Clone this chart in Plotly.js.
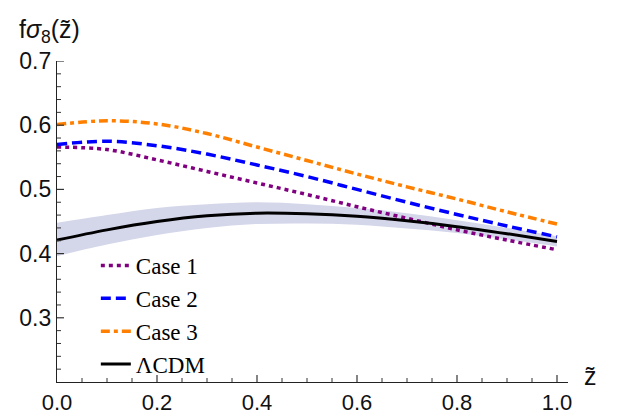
<!DOCTYPE html>
<html>
<head>
<meta charset="utf-8">
<script src="https://cdn.plot.ly/plotly-3.0.1.min.js"></script>
<style>html,body{margin:0;padding:0;background:#fff;}#chart{width:618px;height:414px;}</style>
</head>
<body>
<div id="chart"></div>
<script>
// Redshift grid
const zTilde = [0.0, 0.1, 0.2, 0.3, 0.4, 0.5, 0.6, 0.7, 0.8, 0.9, 1.0];
// Series values f*sigma8(z~)
const case1 = [0.566, 0.562, 0.546, 0.528, 0.510, 0.492, 0.473, 0.455, 0.437, 0.421, 0.406];
const case2 = [0.570, 0.575, 0.568, 0.555, 0.538, 0.520, 0.500, 0.480, 0.461, 0.443, 0.426];
const case3 = [0.601, 0.607, 0.602, 0.587, 0.566, 0.545, 0.524, 0.504, 0.485, 0.465, 0.446];
const lcdm  = [0.421, 0.437, 0.450, 0.459, 0.463, 0.462, 0.458, 0.451, 0.442, 0.431, 0.419];
const lcdmUpper = [0.448, 0.460, 0.471, 0.477, 0.480, 0.477, 0.471, 0.463, 0.452, 0.440, 0.427];
const lcdmLower = [0.396, 0.414, 0.429, 0.440, 0.446, 0.447, 0.445, 0.439, 0.432, 0.422, 0.411];
// Labels
const seriesNames = ["Case 1", "Case 2", "Case 3", "\u039BCDM"];
const xTickVals = [0.0, 0.2, 0.4, 0.6, 0.8, 1.0];
const xTickText = ["0.0", "0.2", "0.4", "0.6", "0.8", "1.0"];
const yTickVals = [0.3, 0.4, 0.5, 0.6, 0.7];
const yTickText = ["0.3", "0.4", "0.5", "0.6", "0.7"];
const xMinorStep = 0.05;
const yMinorStep = 0.02;

const xRange = [0, 1.022];
const yRange = [0.2, 0.7];

const traces = [
  {x: zTilde, y: lcdmLower, mode: 'lines', line: {width: 0, shape: 'spline'}, showlegend: false, hoverinfo: 'skip'},
  {x: zTilde, y: lcdmUpper, mode: 'lines', line: {width: 0, shape: 'spline'}, fill: 'tonexty',
   fillcolor: 'rgba(212,214,234,1)', showlegend: false, hoverinfo: 'skip'},
  {x: zTilde, y: case1, name: seriesNames[0], mode: 'lines',
   line: {color: '#800080', width: 3.5, dash: '4px,4px', shape: 'spline'}},
  {x: zTilde, y: case2, name: seriesNames[1], mode: 'lines',
   line: {color: '#0000ff', width: 3.5, dash: '10px,5px', shape: 'spline'}},
  {x: zTilde, y: case3, name: seriesNames[2], mode: 'lines',
   line: {color: '#ff8000', width: 3.5, dash: '9px,4px,4px,4px', shape: 'spline'}},
  {x: zTilde, y: lcdm, name: seriesNames[3], mode: 'lines',
   line: {color: '#000000', width: 3, shape: 'spline'}}
];

// Inward tick marks (Mathematica style), built from the tick arrays; lengths in axis units
const shapes = [];
const tickColor = '#333';
const xUnitPerPx = (xRange[1] - xRange[0]) / 511;
const yUnitPerPx = (yRange[1] - yRange[0]) / 321;
function xTick(v, len, w) {
  shapes.push({type: 'line', xref: 'x', yref: 'y', x0: v, x1: v,
               y0: yRange[0], y1: yRange[0] + len * yUnitPerPx,
               line: {color: tickColor, width: w}, layer: 'above'});
}
function yTick(v, len, w) {
  shapes.push({type: 'line', xref: 'x', yref: 'y', y0: v, y1: v,
               x0: xRange[0], x1: xRange[0] + len * xUnitPerPx,
               line: {color: tickColor, width: w}, layer: 'above'});
}
for (let i = 1; i * xMinorStep <= 1.0001; i++) {
  const v = +(i * xMinorStep).toFixed(3);
  if (!xTickVals.some(t => Math.abs(t - v) < 1e-6)) xTick(v, 4, 1);
}
xTickVals.forEach(v => { if (v > 0) xTick(v, 7, 1.2); });
for (let i = 1; yRange[0] + i * yMinorStep < yRange[1] - 1e-6; i++) {
  const v = +(yRange[0] + i * yMinorStep).toFixed(3);
  if (!yTickVals.some(t => Math.abs(t - v) < 1e-6)) yTick(v, 4, 1);
}
yTickVals.forEach(v => yTick(v, 7, 1.2));

const sans = 'Liberation Sans, Arial, sans-serif';
const layout = {
  width: 618, height: 414,
  margin: {l: 57, r: 50, t: 61, b: 32},
  paper_bgcolor: '#fff', plot_bgcolor: '#fff',
  showlegend: true,
  legend: {x: 0.076, xanchor: 'left', y: 0.43, yanchor: 'top', bgcolor: 'rgba(0,0,0,0)', traceorder: 'normal',
           font: {family: 'Liberation Serif, Times New Roman, serif', size: 23, color: '#000'},
           tracegroupgap: 0},
  xaxis: {range: xRange, showgrid: false, zeroline: false, showline: true, linecolor: '#222', linewidth: 1.2,
          tickmode: 'array', tickvals: xTickVals, ticktext: xTickText, ticks: '',
          tickfont: {family: sans, size: 22, color: '#111'}},
  yaxis: {range: yRange, showgrid: false, zeroline: false, showline: true, linecolor: '#222', linewidth: 1.2,
          tickmode: 'array', tickvals: yTickVals, ticktext: yTickText, ticks: '',
          tickfont: {family: sans, size: 23, color: '#111'}},
  shapes: shapes,
  annotations: [
    {xref: 'paper', yref: 'paper', x: -0.078, y: 1.095, xanchor: 'left', yanchor: 'middle', showarrow: false,
     text: 'f<i>\u03C3</i><sub>8</sub>(z\u0303)', font: {family: sans, size: 25, color: '#111'}},
    {xref: 'paper', yref: 'paper', x: 1.045, y: 0.02, xanchor: 'center', yanchor: 'middle', showarrow: false,
     text: 'z\u0303', font: {family: sans, size: 25, color: '#111'}}
  ]
};

Plotly.newPlot('chart', traces, layout, {staticPlot: true, displayModeBar: false});
</script>
</body>
</html>
